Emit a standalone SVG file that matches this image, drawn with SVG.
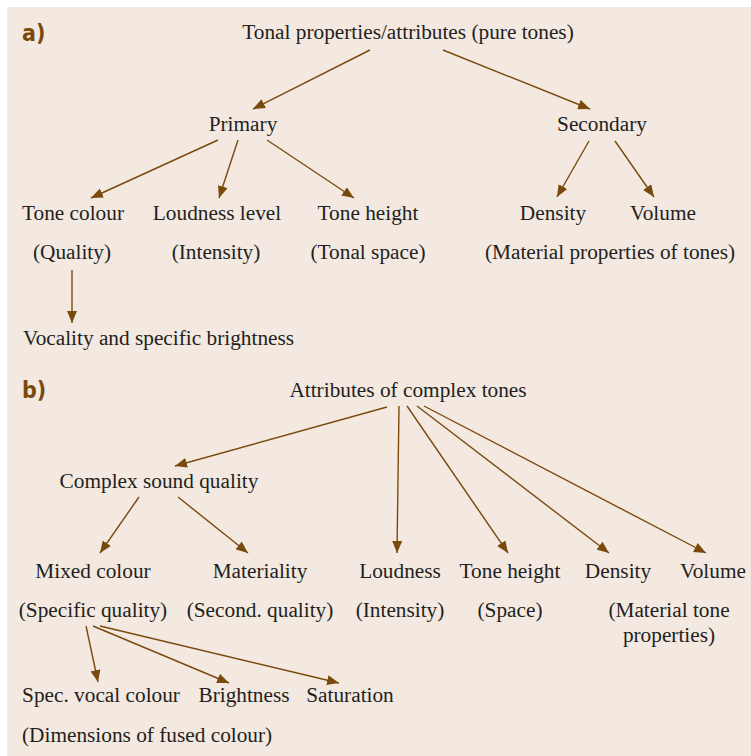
<svg xmlns="http://www.w3.org/2000/svg" width="751" height="756" viewBox="0 0 751 756">
<defs>
<marker id="ah" markerUnits="userSpaceOnUse" markerWidth="12" markerHeight="10" viewBox="0 0 12 10" refX="12" refY="5" orient="auto">
<path d="M0,0 L12,5 L0,10 Z" fill="#7a4a0c"/>
</marker>
<style>
text{font-family:"Liberation Serif","Times New Roman",serif;font-size:21.3px;fill:#231f20;text-anchor:middle}
.lab{font-family:"DejaVu Sans Condensed","Liberation Sans",sans-serif;font-weight:bold;font-size:23px;fill:#7a4a0c;text-anchor:start}
.l{text-anchor:start}
#connectors line{stroke:#7a4a0c;stroke-width:1.4;marker-end:url(#ah)}
</style>
</defs>
<rect x="0" y="0" width="751" height="756" fill="#ffffff"/>
<rect x="7" y="7" width="744" height="749" fill="#f3e9e0"/>
<text class="lab" x="22" y="41">a)</text>
<text class="lab" x="22" y="398">b)</text>
<g id="connectors">
<line x1="370" y1="50" x2="253" y2="109"/>
<line x1="443" y1="50" x2="590" y2="109"/>
<line x1="218" y1="140" x2="91" y2="198"/>
<line x1="238" y1="140" x2="219" y2="198"/>
<line x1="267" y1="140" x2="354" y2="198"/>
<line x1="589" y1="141" x2="557" y2="197"/>
<line x1="615" y1="141" x2="654" y2="197"/>
<line x1="72" y1="270" x2="72" y2="323"/>
<line x1="387" y1="407" x2="175" y2="466"/>
<line x1="399" y1="406" x2="397" y2="553"/>
<line x1="407" y1="406" x2="508" y2="553"/>
<line x1="417" y1="406" x2="609" y2="553"/>
<line x1="424" y1="406" x2="706" y2="553"/>
<line x1="139" y1="497" x2="100" y2="553"/>
<line x1="178" y1="497" x2="248" y2="553"/>
<line x1="86" y1="626" x2="98" y2="682"/>
<line x1="93" y1="626" x2="229" y2="683"/>
<line x1="100" y1="626" x2="339" y2="683"/>
</g>
<g id="a-root"><text x="408" y="39">Tonal properties/attributes (pure tones)</text></g>
<g id="a-primary"><text x="243" y="131">Primary</text></g>
<g id="a-secondary"><text x="602" y="131">Secondary</text></g>
<g id="a-tone-colour"><text x="73" y="220">Tone colour</text><text x="72" y="259">(Quality)</text></g>
<g id="a-loudness"><text x="217" y="220">Loudness level</text><text x="216" y="259">(Intensity)</text></g>
<g id="a-tone-height"><text x="368" y="220">Tone height</text><text x="368" y="259">(Tonal space)</text></g>
<g id="a-density"><text x="553" y="220">Density</text></g>
<g id="a-volume"><text x="663" y="220">Volume</text></g>
<g id="a-material"><text x="610" y="259">(Material properties of tones)</text></g>
<g id="a-vocality"><text class="l" x="23" y="345">Vocality and specific brightness</text></g>
<g id="b-root"><text x="408" y="397">Attributes of complex tones</text></g>
<g id="b-complex"><text x="159" y="488">Complex sound quality</text></g>
<g id="b-mixed"><text x="93" y="578">Mixed colour</text><text x="93" y="617">(Specific quality)</text></g>
<g id="b-materiality"><text x="260" y="578">Materiality</text><text x="260" y="617">(Second. quality)</text></g>
<g id="b-loudness"><text x="400" y="578">Loudness</text><text x="400" y="617">(Intensity)</text></g>
<g id="b-tone-height"><text x="510" y="578">Tone height</text><text x="510" y="617">(Space)</text></g>
<g id="b-density"><text x="618" y="578">Density</text></g>
<g id="b-volume"><text x="713" y="578">Volume</text></g>
<g id="b-material"><text x="669" y="617">(Material tone</text><text x="669" y="642">properties)</text></g>
<g id="b-spec-vocal"><text x="101" y="702">Spec. vocal colour</text></g>
<g id="b-brightness"><text x="244" y="702">Brightness</text></g>
<g id="b-saturation"><text x="350" y="702">Saturation</text></g>
<g id="b-dimensions"><text class="l" x="22" y="742">(Dimensions of fused colour)</text></g>
</svg>
